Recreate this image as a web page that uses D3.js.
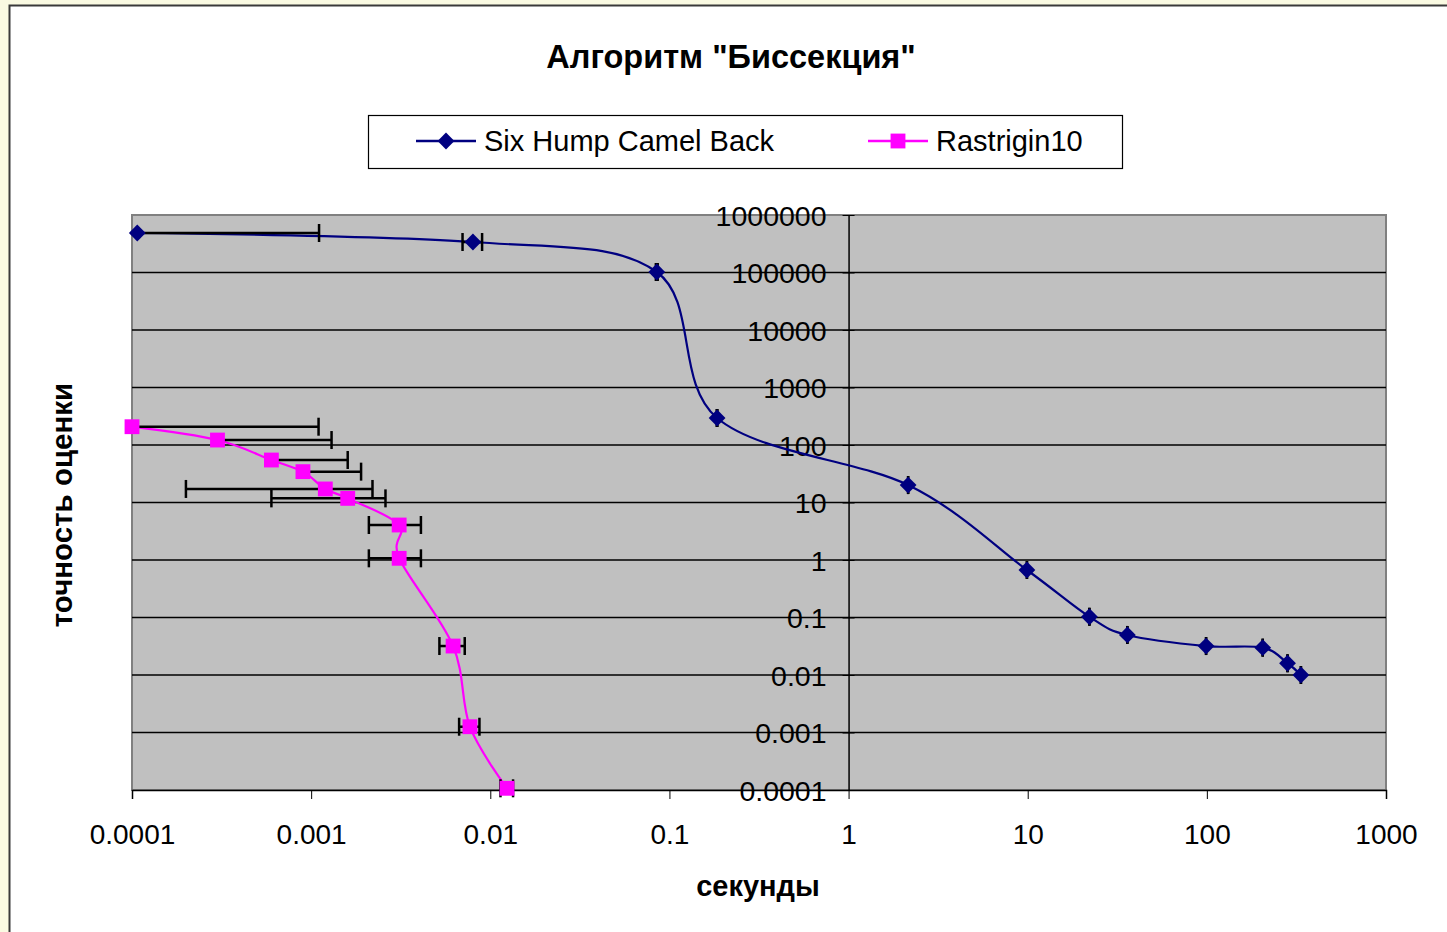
<!DOCTYPE html>
<html>
<head>
<meta charset="utf-8">
<script src="https://cdn.jsdelivr.net/npm/d3@7"></script>
<style>
  html, body { margin: 0; padding: 0; background: #fafae2; }
  svg { display: block; }
  text { font-family: "Liberation Sans", Arial, sans-serif; }
</style>
</head>
<body>
<svg id="chart" width="1447" height="932"></svg>
<script>
// данные: время (сек) и точность оценки
const camelX = [0.000107, 0.008, 0.085, 0.1845, 2.15, 9.9, 22.1, 36, 99, 205, 282, 335];
const camelY = [486000, 339000, 102000, 295, 20.1, 0.67, 0.103, 0.0497, 0.0319, 0.0299, 0.016, 0.01];
const camelErr = [0.001, 0.001, 0.001, 0.001, 0.001, 0.001, 0.001, 0.001, 0.001, 0.001, 0.001, 0.001];

const rastX = [0.0001, 0.0003, 0.0006, 0.0009, 0.0012, 0.0016, 0.0031, 0.0031, 0.0062, 0.0077, 0.0124];
const rastY = [208, 122, 54.8, 34.4, 17.2, 11.8, 4.06, 1.07, 0.0319, 0.00126, 0.000107];
const rastErr = [0.001, 0.001, 0.001, 0.001, 0.001, 0.001, 0.001, 0.001, 0.001, 0.001, 0.001];

const xTicks = [0.0001, 0.001, 0.01, 0.1, 1, 10, 100, 1000];
const xTickLabels = ['0.0001', '0.001', '0.01', '0.1', '1', '10', '100', '1000'];
const yTicks = [0.0001, 0.001, 0.01, 0.1, 1, 10, 100, 1000, 10000, 100000, 1000000];
const yTickLabels = ['0.0001', '0.001', '0.01', '0.1', '1', '10', '100', '1000', '10000', '100000', '1000000'];

const seriesNames = ['Six Hump Camel Back', 'Rastrigin10'];
const seriesColors = ['#000080', '#ff00ff'];

const svg = d3.select('#chart');

// рамка диаграммы
svg.append('rect')
    .attr('x', 9.5).attr('y', 5.5)
    .attr('width', 1460).attr('height', 950)
    .attr('fill', '#ffffff')
    .attr('stroke', '#3a3a3a')
    .attr('stroke-width', 2);

// область построения
const plot = {left: 132, top: 215, right: 1386, bottom: 790};

const x = d3.scaleLog().domain([0.0001, 1000]).range([plot.left, plot.right]);
const y = d3.scaleLog().domain([0.0001, 1000000]).range([plot.bottom, plot.top]);

svg.append('rect')
    .attr('x', plot.left).attr('y', plot.top)
    .attr('width', plot.right - plot.left).attr('height', plot.bottom - plot.top)
    .attr('fill', '#c0c0c0')
    .attr('stroke', '#808080')
    .attr('stroke-width', 2);

// горизонтальная сетка
svg.append('g')
    .selectAll('line')
    .data(yTicks.slice(1, -1))
    .join('line')
    .attr('x1', plot.left).attr('x2', plot.right)
    .attr('y1', d => y(d)).attr('y2', d => y(d))
    .attr('stroke', '#000')
    .attr('stroke-width', 1.5);

// ось X внизу
const xAxis = svg.append('g')
    .attr('transform', `translate(0,${plot.bottom})`)
    .call(d3.axisBottom(x).tickValues(xTicks).tickSize(9).tickPadding(25)
        .tickFormat((d, i) => xTickLabels[i]));
xAxis.select('.domain').attr('stroke', '#000').attr('stroke-width', 1.5);
xAxis.selectAll('.tick line').attr('stroke', '#000');
xAxis.selectAll('text').attr('font-size', 28).attr('fill', '#000');

// ось Y пересекает в x = 1
const yAxis = svg.append('g')
    .attr('transform', `translate(${x(1)},0)`)
    .call(d3.axisLeft(y).tickValues(yTicks).tickSize(0).tickPadding(22)
        .tickFormat((d, i) => yTickLabels[i]));
yAxis.select('.domain').attr('stroke', '#000').attr('stroke-width', 1.5);
yAxis.selectAll('text').attr('font-size', 28.5).attr('fill', '#000').attr('dy', '0.36em');
yAxis.selectAll('.tick').append('line')
    .attr('x1', -6).attr('x2', 6).attr('stroke', '#000');

svg.append('clipPath').attr('id', 'plot-clip')
    .append('rect')
    .attr('x', plot.left).attr('y', plot.top - 20)
    .attr('width', plot.right - plot.left).attr('height', plot.bottom - plot.top + 40);

const line = d3.line()
    .x(d => x(d[0]))
    .y(d => y(d[1]))
    .curve(d3.curveCardinal.tension(0));

function drawSeries(xs, ys, errs, color, marker) {
    const pts = xs.map((v, i) => [v, ys[i], errs[i]]);
    const g = svg.append('g');

    g.append('path')
        .datum(pts)
        .attr('d', line)
        .attr('fill', 'none')
        .attr('stroke', color)
        .attr('stroke-width', 2.2);

    // горизонтальные погрешности
    const eg = g.append('g').attr('clip-path', 'url(#plot-clip)');
    pts.forEach(p => {
        const lo = p[0] - p[2], hi = p[0] + p[2];
        const yy = y(p[1]);
        const x0 = lo > 0 ? x(lo) : x(p[0]);
        eg.append('line')
            .attr('x1', x0).attr('x2', x(hi))
            .attr('y1', yy).attr('y2', yy)
            .attr('stroke', '#000').attr('stroke-width', 2.5);
        eg.append('line')
            .attr('x1', x(hi)).attr('x2', x(hi))
            .attr('y1', yy - 9).attr('y2', yy + 9)
            .attr('stroke', '#000').attr('stroke-width', 2.5);
        if (lo > 0) {
            eg.append('line')
                .attr('x1', x(lo)).attr('x2', x(lo))
                .attr('y1', yy - 9).attr('y2', yy + 9)
                .attr('stroke', '#000').attr('stroke-width', 2.5);
        }
    });

    g.append('g')
        .selectAll('path')
        .data(pts)
        .join('path')
        .attr('transform', d => `translate(${x(d[0])},${y(d[1])})`)
        .attr('d', marker)
        .attr('fill', color);
}

const diamond = d3.symbol().type(d3.symbolDiamond2).size(180)();
const square = d3.symbol().type(d3.symbolSquare).size(220)();

drawSeries(camelX, camelY, camelErr, seriesColors[0], diamond);
drawSeries(rastX, rastY, rastErr, seriesColors[1], square);

// заголовок
svg.append('text')
    .attr('x', 731).attr('y', 68)
    .attr('text-anchor', 'middle')
    .attr('font-size', 32.5).attr('font-weight', 'bold')
    .text('Алгоритм "Биссекция"');

// подписи осей
svg.append('text')
    .attr('x', 758).attr('y', 896)
    .attr('text-anchor', 'middle')
    .attr('font-size', 29).attr('font-weight', 'bold')
    .text('секунды');

svg.append('text')
    .attr('transform', 'translate(72,505) rotate(-90)')
    .attr('text-anchor', 'middle')
    .attr('font-size', 29.5).attr('font-weight', 'bold')
    .text('точность оценки');

// легенда
const legend = svg.append('g');
legend.append('rect')
    .attr('x', 368.5).attr('y', 115.5)
    .attr('width', 754).attr('height', 53)
    .attr('fill', '#fff')
    .attr('stroke', '#000').attr('stroke-width', 1.2);

const legendX = [416, 868];
const legendMarkers = [diamond, square];
seriesNames.forEach((name, i) => {
    const lg = legend.append('g').attr('transform', `translate(${legendX[i]},141)`);
    lg.append('line').attr('x1', 0).attr('x2', 60)
        .attr('stroke', seriesColors[i]).attr('stroke-width', 2.5);
    lg.append('path').attr('transform', 'translate(30,0)')
        .attr('d', legendMarkers[i]).attr('fill', seriesColors[i]);
    lg.append('text').attr('x', 68).attr('y', 10)
        .attr('font-size', 29)
        .text(name);
});
</script>
</body>
</html>
